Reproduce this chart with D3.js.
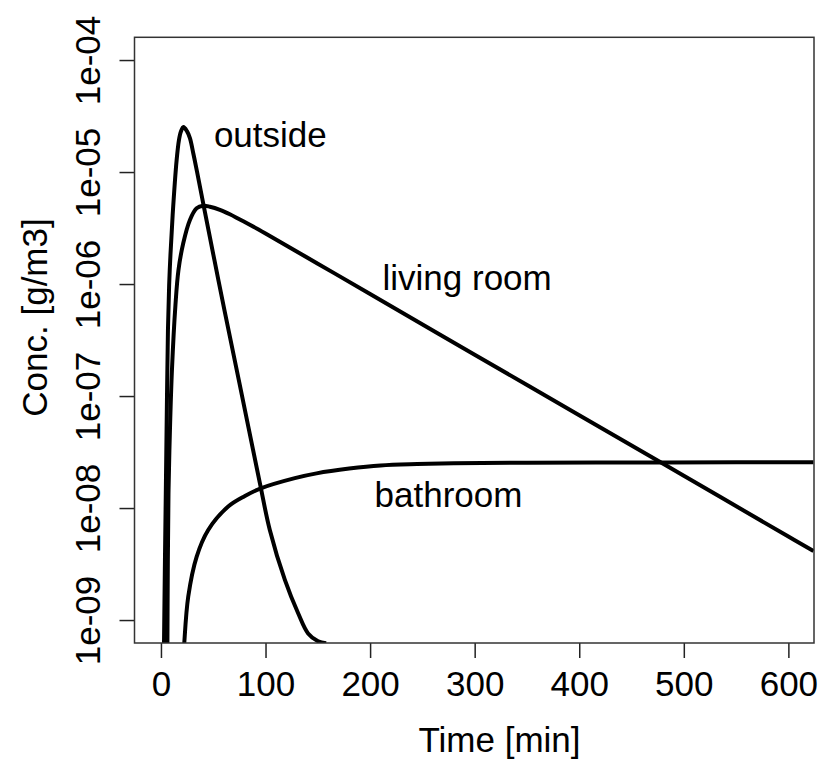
<!DOCTYPE html>
<html>
<head>
<meta charset="utf-8">
<script src="https://cdn.jsdelivr.net/npm/d3@7"></script>
<style>
  body { margin: 0; background: #fff; }
  text { font-family: "Liberation Sans", Arial, sans-serif; fill: #000; }
</style>
</head>
<body>
<div id="vis"></div>
<script>
// values (time in min, concentration in g/m3)
let outsideT   = [2.68, 3.82, 4.78, 5.73, 6.69, 7.83, 9.08, 11.18, 15.0, 17.2, 19.1, 21.5, 24.84, 27.7, 31.05, 34.39, 40.4, 51.1, 60.7, 75.0, 94.6, 104.1, 118.5, 131.2, 140.7, 150.3, 158];
let outsideC   = [4e-10, 3.43e-9, 1.78e-8, 9.2e-8, 3.88e-7, 9.8e-7, 1.82e-6, 4.13e-6, 1.28e-5, 1.93e-5, 2.3e-5, 2.52e-5, 2.32e-5, 2.01e-5, 1.45e-5, 1.02e-5, 5.26e-6, 1.64e-6, 5.86e-7, 1.31e-7, 1.67e-8, 6.37e-9, 2.28e-9, 1.15e-9, 7.6e-10, 6.46e-10, 6.2e-10];

let livingT    = [6.11, 6.59, 7.26, 8.6, 10.51, 13.85, 16.72, 21.3, 27.7, 34.1, 40.4, 46.8, 56.4, 65.9, 75.5, 85, 100, 150, 200, 300, 400, 500, 600, 624];
let livingC    = [4.4e-10, 3.43e-9, 1.45e-8, 4.97e-8, 1.71e-7, 6.49e-7, 1.33e-6, 2.31e-6, 3.73e-6, 4.74e-6, 5.0e-6, 4.9e-6, 4.6e-6, 4.2e-6, 3.77e-6, 3.39e-6, 2.83e-6, 1.52e-6, 8.15e-7, 2.34e-7, 6.75e-8, 1.94e-8, 5.57e-9, 4.13e-9];

let bathT      = [21.5, 22.3, 26.1, 34.1, 45.2, 64.3, 80.3, 95.5, 128, 148.8, 180, 210, 245, 280, 350, 450, 550, 624];
let bathC      = [4.4e-10, 6.2e-10, 1.62e-9, 3.67e-9, 6.37e-9, 1.03e-8, 1.28e-8, 1.5e-8, 1.85e-8, 2.04e-8, 2.25e-8, 2.4e-8, 2.47e-8, 2.51e-8, 2.54e-8, 2.55e-8, 2.56e-8, 2.56e-8];

let xTicks     = [0, 100, 200, 300, 400, 500, 600];
let yTicks     = [1e-9, 1e-8, 1e-7, 1e-6, 1e-5, 1e-4];
let yTickText  = ['1e-09', '1e-08', '1e-07', '1e-06', '1e-05', '1e-04'];

let seriesNames = ['outside', 'living room', 'bathroom'];

let W = 839, H = 761;
let box = { left: 134.5, right: 814, top: 37.3, bottom: 643 };

let svg = d3.select('#vis')
  .append('svg')
    .attr('width', W)
    .attr('height', H)
    .attr('viewBox', [0, 0, W, H].join(' '));

svg.append('rect').attr('width', W).attr('height', H).attr('fill', '#fff');

let x = d3.scaleLinear()
  .domain([-25.3, 624.5])
  .range([box.left, box.right]);

let y = d3.scaleLog()
  .domain([Math.pow(10, -9.205), Math.pow(10, -3.797)])
  .range([box.bottom, box.top]);

svg.append('clipPath').attr('id', 'plotclip')
  .append('rect')
    .attr('x', box.left).attr('y', box.top)
    .attr('width', box.right - box.left)
    .attr('height', box.bottom - box.top);

// curves
let line = d3.line()
  .x(d => x(d[0]))
  .y(d => y(d[1]))
  .curve(d3.curveCatmullRom.alpha(0.5));

let series = [
  d3.zip(outsideT, outsideC),
  d3.zip(livingT, livingC),
  d3.zip(bathT, bathC)
];

svg.append('g')
    .attr('clip-path', 'url(#plotclip)')
  .selectAll('path')
  .data(series)
  .join('path')
    .attr('d', line)
    .attr('fill', 'none')
    .attr('stroke', '#000')
    .attr('stroke-width', 4)
    .attr('stroke-linejoin', 'round');

// axes
let fs = 35;

let xAxis = svg.append('g')
  .attr('transform', `translate(0,${box.bottom})`)
  .call(d3.axisBottom(x).tickValues(xTicks).tickSize(15).tickSizeOuter(0).tickFormat(d3.format('d')));
xAxis.select('.domain').remove();
xAxis.selectAll('line').attr('stroke', '#222').attr('stroke-width', 1.5);
xAxis.selectAll('text')
  .attr('y', 53).attr('dy', 0)
  .attr('font-size', fs)
  .attr('font-family', '"Liberation Sans", Arial, sans-serif')
  .attr('fill', '#000');

let yAxis = svg.append('g')
  .attr('transform', `translate(${box.left},0)`)
  .call(d3.axisLeft(y).tickValues(yTicks).tickSize(15).tickSizeOuter(0).tickFormat((d, i) => yTickText[i]));
yAxis.select('.domain').remove();
yAxis.selectAll('line').attr('stroke', '#222').attr('stroke-width', 1.5);
yAxis.selectAll('text')
  .attr('x', 0).attr('dy', 0)
  .attr('transform', 'translate(-34.5,0) rotate(-90)')
  .attr('text-anchor', 'middle')
  .attr('font-size', fs)
  .attr('font-family', '"Liberation Sans", Arial, sans-serif')
  .attr('fill', '#000');

// box
svg.append('rect')
  .attr('x', box.left).attr('y', box.top)
  .attr('width', box.right - box.left)
  .attr('height', box.bottom - box.top)
  .attr('fill', 'none')
  .attr('stroke', '#333')
  .attr('stroke-width', 1.5);

// axis titles
svg.append('text')
  .attr('x', 499.5).attr('y', 752)
  .attr('text-anchor', 'middle')
  .attr('font-size', fs)
  .text('Time [min]');

svg.append('text')
  .attr('transform', 'translate(46.5,317.5) rotate(-90)')
  .attr('text-anchor', 'middle')
  .attr('font-size', fs)
  .text('Conc. [g/m3]');

// curve labels, placed in data units
let labelAt = [[104.6, Math.pow(10, -4.777)], [292.8, Math.pow(10, -6.054)], [275, Math.pow(10, -7.99)]];
svg.selectAll('.lab')
  .data(seriesNames)
  .join('text')
    .attr('class', 'lab')
    .attr('x', (d, i) => x(labelAt[i][0]))
    .attr('y', (d, i) => y(labelAt[i][1]))
    .attr('text-anchor', 'middle')
    .attr('font-size', fs)
    .text(d => d);
</script>
</body>
</html>
